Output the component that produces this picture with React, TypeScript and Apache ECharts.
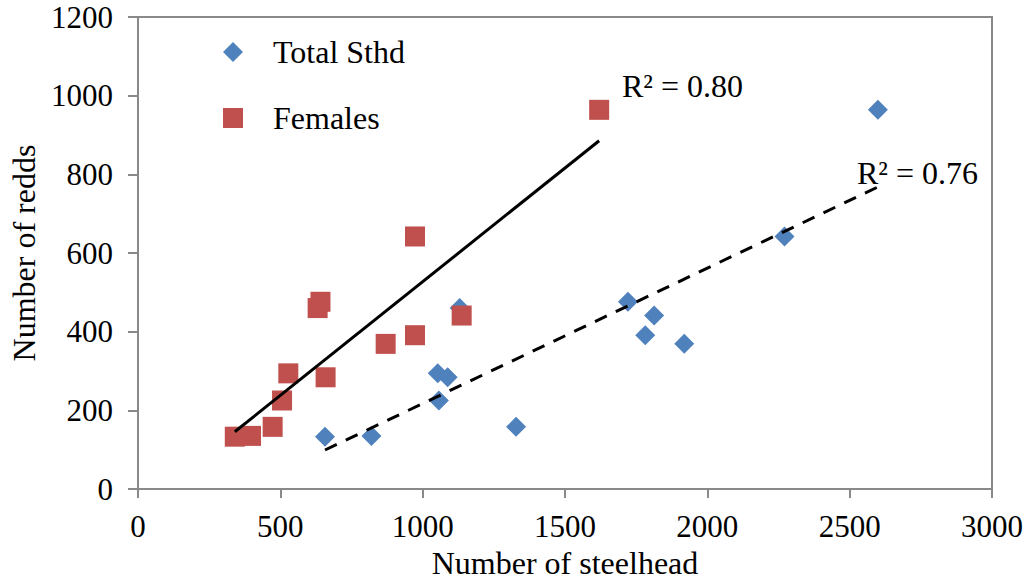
import React, { useEffect, useRef } from "react";
import * as echarts from "echarts";

const FONT = '"Liberation Serif", "Times New Roman", serif';

// Data
const seriesNames = ["Total Sthd", "Females"];
const redds = [964, 642, 476, 460, 441, 391, 369, 294, 284, 225, 158, 133, 135];
const totalSthd = [2599, 2271, 1721, 1130, 1813, 1782, 1919, 1053, 1088, 1057, 1328, 657, 820];
const females = [1620, 973, 641, 631, 1137, 973, 870, 528, 659, 506, 473, 340, 397];
const r2Labels = ["R² = 0.76", "R² = 0.80"];

function pairs(xs: number[], ys: number[]) {
  return xs.map((x, i) => [x, ys[i]]);
}

function trend(xs: number[], ys: number[]) {
  const n = xs.length;
  const mx = xs.reduce((a, b) => a + b, 0) / n;
  const my = ys.reduce((a, b) => a + b, 0) / n;
  let sxy = 0;
  let sxx = 0;
  for (let i = 0; i < n; i++) {
    sxy += (xs[i] - mx) * (ys[i] - my);
    sxx += (xs[i] - mx) * (xs[i] - mx);
  }
  const b = sxy / sxx;
  const a = my - b * mx;
  const x0 = Math.min(...xs);
  const x1 = Math.max(...xs);
  return [
    [x0, a + b * x0],
    [x1, a + b * x1],
  ];
}

export default function App() {
  const ref = useRef<HTMLDivElement>(null);

  useEffect(() => {
    if (!ref.current) return;
    const chart = echarts.init(ref.current, null, { renderer: "svg" });
    const axisColor = "#898989";
    const plain = (v: number) => String(v);
    const option: any = {
      animation: false,
      backgroundColor: "#ffffff",
      textStyle: { fontFamily: FONT },
      grid: {
        left: 138,
        right: 35,
        top: 17,
        bottom: 93,
        show: true,
        borderColor: axisColor,
        borderWidth: 2,
        containLabel: false,
        outerBoundsMode: "none",
      },
      legend: {
        orient: "vertical",
        left: 223,
        top: 36,
        padding: 0,
        itemWidth: 20,
        itemHeight: 20,
        itemGap: 34,
        textStyle: {
          fontFamily: FONT,
          fontSize: 32,
          color: "#000",
          lineHeight: 30,
          padding: [0, 0, 0, 25],
        },
        data: [
          { name: seriesNames[0], icon: "diamond" },
          { name: seriesNames[1], icon: "rect" },
        ],
      },
      xAxis: {
        type: "value",
        min: 0,
        max: 3000,
        interval: 500,
        name: "Number of steelhead",
        nameLocation: "middle",
        nameGap: 59,
        nameTextStyle: { fontFamily: FONT, fontSize: 32, lineHeight: 30, color: "#000" },
        axisLine: { show: true, onZero: false, lineStyle: { color: axisColor, width: 2 } },
        axisTick: { show: true, length: 9, lineStyle: { color: axisColor, width: 2 } },
        axisLabel: { fontFamily: FONT, fontSize: 31, color: "#000", margin: 22, formatter: plain },
        splitLine: { show: false },
      },
      yAxis: {
        type: "value",
        min: 0,
        max: 1200,
        interval: 200,
        name: "Number of redds",
        nameLocation: "middle",
        nameRotate: 90,
        nameGap: 94,
        nameTextStyle: { fontFamily: FONT, fontSize: 32, color: "#000" },
        axisLine: { show: true, onZero: false, lineStyle: { color: axisColor, width: 2 } },
        axisTick: { show: true, length: 10, lineStyle: { color: axisColor, width: 2 } },
        axisLabel: { fontFamily: FONT, fontSize: 31, color: "#000", margin: 25, formatter: plain },
        splitLine: { show: false },
      },
      series: [
        {
          name: seriesNames[0],
          type: "scatter",
          symbol: "diamond",
          symbolSize: 20,
          itemStyle: { color: "#4F81BD", opacity: 1 },
          data: pairs(totalSthd, redds),
        },
        {
          name: seriesNames[1],
          type: "scatter",
          symbol: "rect",
          symbolSize: 20,
          itemStyle: { color: "#C0504D", opacity: 1 },
          data: pairs(females, redds),
        },
        {
          name: "Total trend",
          type: "line",
          symbol: "none",
          silent: true,
          lineStyle: { color: "#000", width: 3, type: [13, 10] },
          data: trend(totalSthd, redds),
        },
        {
          name: "Female trend",
          type: "line",
          symbol: "none",
          silent: true,
          lineStyle: { color: "#000", width: 3, type: "solid" },
          data: trend(females, redds),
        },
      ],
      graphic: [
        {
          type: "text",
          x: 622,
          y: 86,
          style: {
            text: r2Labels[1],
            fontFamily: FONT,
            fontSize: 32,
            fill: "#000",
            verticalAlign: "middle",
          },
        },
        {
          type: "text",
          x: 857,
          y: 173,
          style: {
            text: r2Labels[0],
            fontFamily: FONT,
            fontSize: 32,
            fill: "#000",
            verticalAlign: "middle",
          },
        },
      ],
    };
    chart.setOption(option);
    return () => chart.dispose();
  }, []);

  return (
    <div
      ref={ref}
      style={{ position: "fixed", left: 0, top: 0, width: 1027, height: 582, background: "#fff" }}
    />
  );
}
